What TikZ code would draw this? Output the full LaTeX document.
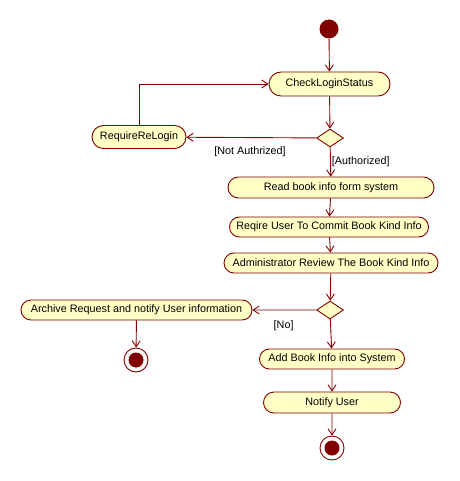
\documentclass[tikz,border=0pt]{standalone}
\usepackage{fontspec}
\setmainfont{Liberation Sans}
\usetikzlibrary{shapes.misc,shapes.geometric,arrows.meta}
\definecolor{umlred}{HTML}{800000}
\definecolor{umlfill}{HTML}{FFFFC6}
\tikzset{
act/.style={rounded rectangle,draw=umlred,fill=umlfill,line width=0.9pt,inner sep=0pt,minimum height=20pt,font=\fontsize{10.8}{13}\selectfont},
choice/.style={diamond,draw=umlred,fill=umlfill,line width=0.9pt,inner sep=0pt,minimum width=27pt,minimum height=18pt},
begin/.style={circle,fill=umlred,inner sep=0pt,minimum size=19pt},
finish/.style={circle,draw=umlred,fill=white,line width=0.9pt,inner sep=0pt,minimum size=24pt,
  path picture={\fill[umlred] (path picture bounding box.center) circle (7.5pt);}},
flow/.style={draw=umlred,line width=0.9pt,-{Straight Barb[length=6pt,width=8pt]}},
guard/.style={font=\fontsize{10.8}{13}\selectfont,inner sep=1pt}
}
\begin{document}
\begin{tikzpicture}[x=1pt,y=-1pt]
\useasboundingbox (0,0) rectangle (459,481);
\node [begin] (start) at(329,29){};
\node [act,minimum width=121pt,minimum height=24pt] (check) at(329.5,84){CheckLoginStatus};
\node [choice] (login) at(330,138){};
\node [act,minimum width=94pt,minimum height=23pt] (relogin) at(139,137){RequireReLogin};
\node [act,minimum width=206pt,minimum height=21pt] (read) at(331,187.5){Read book info form system};
\node [act,minimum width=199pt] (commit) at(329,227){Reqire User To Commit Book Kind Info};
\node [act,minimum width=214pt] (review) at(331,263){Administrator Review The Book Kind Info};
\node [choice] (verdict) at(330,310){};
\node [act,minimum width=231pt] (archive) at(136.5,310){Archive Request and notify User information};
\node [finish] (endleft) at(136,360){};
\node [act,minimum width=145pt] (addinfo) at(332,359){Add Book Info into System};
\node [act,minimum width=137pt,minimum height=21pt] (notify) at(332,402.5){Notify User};
\node [finish] (endright) at(332,448){};
% main flow
\draw[flow](start)--(check);
\draw[flow](check)--(login);
\draw[flow](login)--(relogin) node[guard,pos=0.51,below=8pt]{[Not Authrized]};
\draw[flow](relogin.north)|-(check.west);
\draw[flow](login)--(read) node[guard,pos=0.5,right]{[Authorized]};
\draw[flow](read)--(commit);
\draw[flow](commit)--(review);
\draw[flow](review)--(verdict);
\draw[flow](verdict)--(archive) node[guard,pos=0.51,below=9pt]{[No]};
\draw[flow](archive)--(endleft);
\draw[flow](verdict)--(addinfo);
\draw[flow](addinfo)--(notify);
\draw[flow](notify)--(endright);
\end{tikzpicture}
\end{document}
